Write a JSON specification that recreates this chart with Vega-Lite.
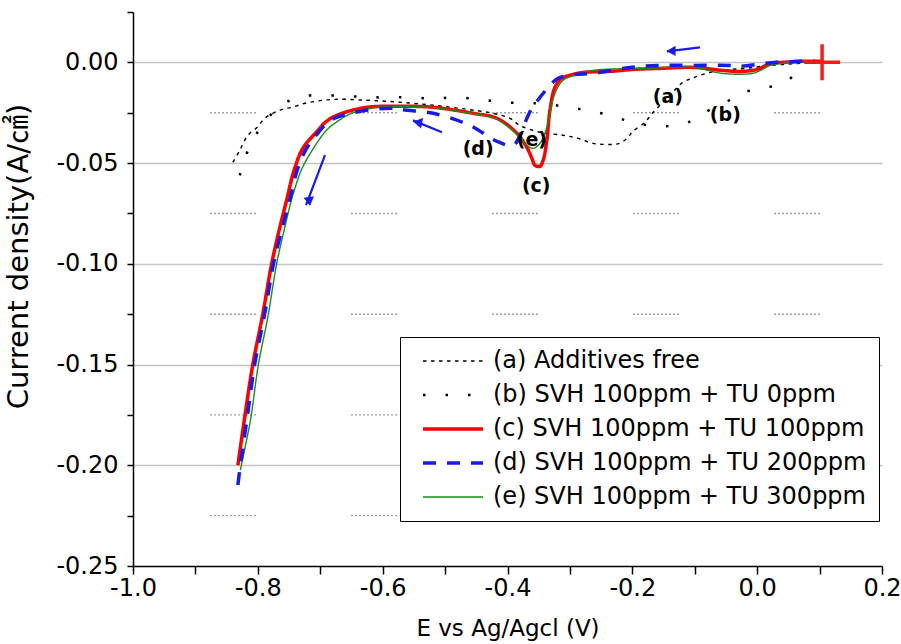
{
  "$schema": "https://vega.github.io/schema/vega-lite/v6.json",
  "width": 749,
  "height": 554,
  "autosize": {"type": "none"},
  "padding": {"left": 133, "top": 12, "right": 19, "bottom": 78},
  "background": "white",
  "config": {"view": {"stroke": null}, "font": "DejaVu Sans"},
  "datasets": {
    "curves": [
      {"s": "(a) Additives free", "E": -0.840, "j": -0.0496},
      {"s": "(a) Additives free", "E": -0.829, "j": -0.0437},
      {"s": "(a) Additives free", "E": -0.816, "j": -0.0362},
      {"s": "(a) Additives free", "E": -0.801, "j": -0.0322},
      {"s": "(a) Additives free", "E": -0.789, "j": -0.0278},
      {"s": "(a) Additives free", "E": -0.776, "j": -0.0253},
      {"s": "(a) Additives free", "E": -0.761, "j": -0.0233},
      {"s": "(a) Additives free", "E": -0.745, "j": -0.0223},
      {"s": "(a) Additives free", "E": -0.724, "j": -0.0203},
      {"s": "(a) Additives free", "E": -0.680, "j": -0.0184},
      {"s": "(a) Additives free", "E": -0.625, "j": -0.0188},
      {"s": "(a) Additives free", "E": -0.572, "j": -0.0198},
      {"s": "(a) Additives free", "E": -0.519, "j": -0.0213},
      {"s": "(a) Additives free", "E": -0.465, "j": -0.0233},
      {"s": "(a) Additives free", "E": -0.423, "j": -0.0253},
      {"s": "(a) Additives free", "E": -0.396, "j": -0.0278},
      {"s": "(a) Additives free", "E": -0.380, "j": -0.0313},
      {"s": "(a) Additives free", "E": -0.348, "j": -0.0347},
      {"s": "(a) Additives free", "E": -0.311, "j": -0.0362},
      {"s": "(a) Additives free", "E": -0.287, "j": -0.0377},
      {"s": "(a) Additives free", "E": -0.263, "j": -0.0402},
      {"s": "(a) Additives free", "E": -0.247, "j": -0.0407},
      {"s": "(a) Additives free", "E": -0.231, "j": -0.0407},
      {"s": "(a) Additives free", "E": -0.220, "j": -0.0402},
      {"s": "(a) Additives free", "E": -0.207, "j": -0.0372},
      {"s": "(a) Additives free", "E": -0.199, "j": -0.0342},
      {"s": "(a) Additives free", "E": -0.180, "j": -0.0298},
      {"s": "(a) Additives free", "E": -0.168, "j": -0.0253},
      {"s": "(a) Additives free", "E": -0.143, "j": -0.0174},
      {"s": "(a) Additives free", "E": -0.119, "j": -0.0099},
      {"s": "(a) Additives free", "E": -0.104, "j": -0.0079},
      {"s": "(a) Additives free", "E": -0.087, "j": -0.0060},
      {"s": "(a) Additives free", "E": -0.060, "j": -0.0040},
      {"s": "(a) Additives free", "E": -0.020, "j": -0.0030},
      {"s": "(a) Additives free", "E": 0.021, "j": -0.0015},
      {"s": "(a) Additives free", "E": 0.069, "j": -0.0005},
      {"s": "(b) SVH 100ppm + TU 0ppm", "E": -0.829, "j": -0.0561},
      {"s": "(b) SVH 100ppm + TU 0ppm", "E": -0.817, "j": -0.0446},
      {"s": "(b) SVH 100ppm + TU 0ppm", "E": -0.809, "j": -0.0392},
      {"s": "(b) SVH 100ppm + TU 0ppm", "E": -0.793, "j": -0.0313},
      {"s": "(b) SVH 100ppm + TU 0ppm", "E": -0.772, "j": -0.0238},
      {"s": "(b) SVH 100ppm + TU 0ppm", "E": -0.748, "j": -0.0188},
      {"s": "(b) SVH 100ppm + TU 0ppm", "E": -0.716, "j": -0.0164},
      {"s": "(b) SVH 100ppm + TU 0ppm", "E": -0.652, "j": -0.0169},
      {"s": "(b) SVH 100ppm + TU 0ppm", "E": -0.604, "j": -0.0174},
      {"s": "(b) SVH 100ppm + TU 0ppm", "E": -0.561, "j": -0.0174},
      {"s": "(b) SVH 100ppm + TU 0ppm", "E": -0.519, "j": -0.0179},
      {"s": "(b) SVH 100ppm + TU 0ppm", "E": -0.481, "j": -0.0174},
      {"s": "(b) SVH 100ppm + TU 0ppm", "E": -0.444, "j": -0.0184},
      {"s": "(b) SVH 100ppm + TU 0ppm", "E": -0.404, "j": -0.0198},
      {"s": "(b) SVH 100ppm + TU 0ppm", "E": -0.367, "j": -0.0203},
      {"s": "(b) SVH 100ppm + TU 0ppm", "E": -0.348, "j": -0.0203},
      {"s": "(b) SVH 100ppm + TU 0ppm", "E": -0.303, "j": -0.0223},
      {"s": "(b) SVH 100ppm + TU 0ppm", "E": -0.273, "j": -0.0238},
      {"s": "(b) SVH 100ppm + TU 0ppm", "E": -0.236, "j": -0.0263},
      {"s": "(b) SVH 100ppm + TU 0ppm", "E": -0.199, "j": -0.0298},
      {"s": "(b) SVH 100ppm + TU 0ppm", "E": -0.160, "j": -0.0317},
      {"s": "(b) SVH 100ppm + TU 0ppm", "E": -0.120, "j": -0.0308},
      {"s": "(b) SVH 100ppm + TU 0ppm", "E": -0.104, "j": -0.0288},
      {"s": "(b) SVH 100ppm + TU 0ppm", "E": -0.087, "j": -0.0253},
      {"s": "(b) SVH 100ppm + TU 0ppm", "E": -0.047, "j": -0.0193},
      {"s": "(b) SVH 100ppm + TU 0ppm", "E": -0.029, "j": -0.0154},
      {"s": "(b) SVH 100ppm + TU 0ppm", "E": 0.009, "j": -0.0129},
      {"s": "(b) SVH 100ppm + TU 0ppm", "E": 0.048, "j": -0.0094},
      {"s": "(b) SVH 100ppm + TU 0ppm", "E": 0.064, "j": -0.0035},
      {"s": "(c) SVH 100ppm + TU 100ppm", "E": -0.832, "j": -0.2000},
      {"s": "(c) SVH 100ppm + TU 100ppm", "E": -0.821, "j": -0.1761},
      {"s": "(c) SVH 100ppm + TU 100ppm", "E": -0.808, "j": -0.1498},
      {"s": "(c) SVH 100ppm + TU 100ppm", "E": -0.793, "j": -0.1265},
      {"s": "(c) SVH 100ppm + TU 100ppm", "E": -0.778, "j": -0.1002},
      {"s": "(c) SVH 100ppm + TU 100ppm", "E": -0.767, "j": -0.0848},
      {"s": "(c) SVH 100ppm + TU 100ppm", "E": -0.754, "j": -0.0685},
      {"s": "(c) SVH 100ppm + TU 100ppm", "E": -0.742, "j": -0.0536},
      {"s": "(c) SVH 100ppm + TU 100ppm", "E": -0.728, "j": -0.0427},
      {"s": "(c) SVH 100ppm + TU 100ppm", "E": -0.708, "j": -0.0352},
      {"s": "(c) SVH 100ppm + TU 100ppm", "E": -0.688, "j": -0.0288},
      {"s": "(c) SVH 100ppm + TU 100ppm", "E": -0.665, "j": -0.0253},
      {"s": "(c) SVH 100ppm + TU 100ppm", "E": -0.625, "j": -0.0223},
      {"s": "(c) SVH 100ppm + TU 100ppm", "E": -0.572, "j": -0.0218},
      {"s": "(c) SVH 100ppm + TU 100ppm", "E": -0.519, "j": -0.0223},
      {"s": "(c) SVH 100ppm + TU 100ppm", "E": -0.455, "j": -0.0253},
      {"s": "(c) SVH 100ppm + TU 100ppm", "E": -0.417, "j": -0.0278},
      {"s": "(c) SVH 100ppm + TU 100ppm", "E": -0.385, "j": -0.0352},
      {"s": "(c) SVH 100ppm + TU 100ppm", "E": -0.369, "j": -0.0422},
      {"s": "(c) SVH 100ppm + TU 100ppm", "E": -0.361, "j": -0.0476},
      {"s": "(c) SVH 100ppm + TU 100ppm", "E": -0.356, "j": -0.0511},
      {"s": "(c) SVH 100ppm + TU 100ppm", "E": -0.348, "j": -0.0516},
      {"s": "(c) SVH 100ppm + TU 100ppm", "E": -0.343, "j": -0.0486},
      {"s": "(c) SVH 100ppm + TU 100ppm", "E": -0.337, "j": -0.0387},
      {"s": "(c) SVH 100ppm + TU 100ppm", "E": -0.332, "j": -0.0238},
      {"s": "(c) SVH 100ppm + TU 100ppm", "E": -0.324, "j": -0.0124},
      {"s": "(c) SVH 100ppm + TU 100ppm", "E": -0.313, "j": -0.0079},
      {"s": "(c) SVH 100ppm + TU 100ppm", "E": -0.300, "j": -0.0064},
      {"s": "(c) SVH 100ppm + TU 100ppm", "E": -0.279, "j": -0.0050},
      {"s": "(c) SVH 100ppm + TU 100ppm", "E": -0.236, "j": -0.0045},
      {"s": "(c) SVH 100ppm + TU 100ppm", "E": -0.199, "j": -0.0035},
      {"s": "(c) SVH 100ppm + TU 100ppm", "E": -0.156, "j": -0.0030},
      {"s": "(c) SVH 100ppm + TU 100ppm", "E": -0.103, "j": -0.0025},
      {"s": "(c) SVH 100ppm + TU 100ppm", "E": -0.055, "j": -0.0040},
      {"s": "(c) SVH 100ppm + TU 100ppm", "E": -0.027, "j": -0.0045},
      {"s": "(c) SVH 100ppm + TU 100ppm", "E": 0.000, "j": -0.0035},
      {"s": "(c) SVH 100ppm + TU 100ppm", "E": 0.021, "j": -0.0005},
      {"s": "(c) SVH 100ppm + TU 100ppm", "E": 0.041, "j": 0.0000},
      {"s": "(c) SVH 100ppm + TU 100ppm", "E": 0.069, "j": 0.0005},
      {"s": "(c) SVH 100ppm + TU 100ppm", "E": 0.101, "j": 0.0005},
      {"s": "(e) SVH 100ppm + TU 300ppm", "E": -0.828, "j": -0.2024},
      {"s": "(e) SVH 100ppm + TU 300ppm", "E": -0.818, "j": -0.1875},
      {"s": "(e) SVH 100ppm + TU 300ppm", "E": -0.811, "j": -0.1761},
      {"s": "(e) SVH 100ppm + TU 300ppm", "E": -0.799, "j": -0.1498},
      {"s": "(e) SVH 100ppm + TU 300ppm", "E": -0.784, "j": -0.1265},
      {"s": "(e) SVH 100ppm + TU 300ppm", "E": -0.770, "j": -0.1002},
      {"s": "(e) SVH 100ppm + TU 300ppm", "E": -0.759, "j": -0.0848},
      {"s": "(e) SVH 100ppm + TU 300ppm", "E": -0.744, "j": -0.0660},
      {"s": "(e) SVH 100ppm + TU 300ppm", "E": -0.729, "j": -0.0526},
      {"s": "(e) SVH 100ppm + TU 300ppm", "E": -0.711, "j": -0.0427},
      {"s": "(e) SVH 100ppm + TU 300ppm", "E": -0.690, "j": -0.0337},
      {"s": "(e) SVH 100ppm + TU 300ppm", "E": -0.670, "j": -0.0288},
      {"s": "(e) SVH 100ppm + TU 300ppm", "E": -0.650, "j": -0.0253},
      {"s": "(e) SVH 100ppm + TU 300ppm", "E": -0.612, "j": -0.0225},
      {"s": "(e) SVH 100ppm + TU 300ppm", "E": -0.572, "j": -0.0220},
      {"s": "(e) SVH 100ppm + TU 300ppm", "E": -0.519, "j": -0.0225},
      {"s": "(e) SVH 100ppm + TU 300ppm", "E": -0.455, "j": -0.0255},
      {"s": "(e) SVH 100ppm + TU 300ppm", "E": -0.417, "j": -0.0282},
      {"s": "(e) SVH 100ppm + TU 300ppm", "E": -0.380, "j": -0.0372},
      {"s": "(e) SVH 100ppm + TU 300ppm", "E": -0.369, "j": -0.0412},
      {"s": "(e) SVH 100ppm + TU 300ppm", "E": -0.359, "j": -0.0427},
      {"s": "(e) SVH 100ppm + TU 300ppm", "E": -0.348, "j": -0.0402},
      {"s": "(e) SVH 100ppm + TU 300ppm", "E": -0.337, "j": -0.0322},
      {"s": "(e) SVH 100ppm + TU 300ppm", "E": -0.324, "j": -0.0154},
      {"s": "(e) SVH 100ppm + TU 300ppm", "E": -0.311, "j": -0.0089},
      {"s": "(e) SVH 100ppm + TU 300ppm", "E": -0.292, "j": -0.0064},
      {"s": "(e) SVH 100ppm + TU 300ppm", "E": -0.263, "j": -0.0040},
      {"s": "(e) SVH 100ppm + TU 300ppm", "E": -0.183, "j": -0.0030},
      {"s": "(e) SVH 100ppm + TU 300ppm", "E": -0.103, "j": -0.0025},
      {"s": "(e) SVH 100ppm + TU 300ppm", "E": -0.055, "j": -0.0055},
      {"s": "(e) SVH 100ppm + TU 300ppm", "E": -0.008, "j": -0.0055},
      {"s": "(e) SVH 100ppm + TU 300ppm", "E": 0.005, "j": -0.0040},
      {"s": "(e) SVH 100ppm + TU 300ppm", "E": 0.021, "j": -0.0015},
      {"s": "(e) SVH 100ppm + TU 300ppm", "E": 0.041, "j": -0.0005},
      {"s": "(e) SVH 100ppm + TU 300ppm", "E": 0.073, "j": 0.0000},
      {"s": "(e) SVH 100ppm + TU 300ppm", "E": 0.093, "j": 0.0000},
      {"s": "(d) SVH 100ppm + TU 200ppm", "E": -0.832, "j": -0.2098},
      {"s": "(d) SVH 100ppm + TU 200ppm", "E": -0.829, "j": -0.2024},
      {"s": "(d) SVH 100ppm + TU 200ppm", "E": -0.817, "j": -0.1761},
      {"s": "(d) SVH 100ppm + TU 200ppm", "E": -0.805, "j": -0.1498},
      {"s": "(d) SVH 100ppm + TU 200ppm", "E": -0.790, "j": -0.1265},
      {"s": "(d) SVH 100ppm + TU 200ppm", "E": -0.775, "j": -0.1002},
      {"s": "(d) SVH 100ppm + TU 200ppm", "E": -0.763, "j": -0.0848},
      {"s": "(d) SVH 100ppm + TU 200ppm", "E": -0.749, "j": -0.0685},
      {"s": "(d) SVH 100ppm + TU 200ppm", "E": -0.737, "j": -0.0536},
      {"s": "(d) SVH 100ppm + TU 200ppm", "E": -0.722, "j": -0.0427},
      {"s": "(d) SVH 100ppm + TU 200ppm", "E": -0.704, "j": -0.0352},
      {"s": "(d) SVH 100ppm + TU 200ppm", "E": -0.684, "j": -0.0288},
      {"s": "(d) SVH 100ppm + TU 200ppm", "E": -0.644, "j": -0.0248},
      {"s": "(d) SVH 100ppm + TU 200ppm", "E": -0.588, "j": -0.0228},
      {"s": "(d) SVH 100ppm + TU 200ppm", "E": -0.561, "j": -0.0238},
      {"s": "(d) SVH 100ppm + TU 200ppm", "E": -0.519, "j": -0.0253},
      {"s": "(d) SVH 100ppm + TU 200ppm", "E": -0.460, "j": -0.0313},
      {"s": "(d) SVH 100ppm + TU 200ppm", "E": -0.417, "j": -0.0392},
      {"s": "(d) SVH 100ppm + TU 200ppm", "E": -0.391, "j": -0.0412},
      {"s": "(d) SVH 100ppm + TU 200ppm", "E": -0.380, "j": -0.0362},
      {"s": "(d) SVH 100ppm + TU 200ppm", "E": -0.369, "j": -0.0278},
      {"s": "(d) SVH 100ppm + TU 200ppm", "E": -0.361, "j": -0.0228},
      {"s": "(d) SVH 100ppm + TU 200ppm", "E": -0.348, "j": -0.0174},
      {"s": "(d) SVH 100ppm + TU 200ppm", "E": -0.332, "j": -0.0114},
      {"s": "(d) SVH 100ppm + TU 200ppm", "E": -0.319, "j": -0.0079},
      {"s": "(d) SVH 100ppm + TU 200ppm", "E": -0.292, "j": -0.0060},
      {"s": "(d) SVH 100ppm + TU 200ppm", "E": -0.263, "j": -0.0055},
      {"s": "(d) SVH 100ppm + TU 200ppm", "E": -0.204, "j": -0.0025},
      {"s": "(d) SVH 100ppm + TU 200ppm", "E": -0.156, "j": -0.0015},
      {"s": "(d) SVH 100ppm + TU 200ppm", "E": -0.103, "j": -0.0015},
      {"s": "(d) SVH 100ppm + TU 200ppm", "E": -0.043, "j": -0.0015},
      {"s": "(d) SVH 100ppm + TU 200ppm", "E": -0.027, "j": -0.0020},
      {"s": "(d) SVH 100ppm + TU 200ppm", "E": 0.013, "j": -0.0005},
      {"s": "(d) SVH 100ppm + TU 200ppm", "E": 0.032, "j": 0.0000},
      {"s": "(d) SVH 100ppm + TU 200ppm", "E": 0.069, "j": 0.0005},
      {"s": "(d) SVH 100ppm + TU 200ppm", "E": 0.093, "j": 0.0005}
    ],
    "minor": [{"j": -0.025}, {"j": -0.075}, {"j": -0.125}, {"j": -0.175}, {"j": -0.225}],
    "labels": [
      {"t": "(a)", "E": -0.143, "j": -0.0174},
      {"t": "(b)", "E": -0.051, "j": -0.0263},
      {"t": "(c)", "E": -0.354, "j": -0.0615},
      {"t": "(d)", "E": -0.447, "j": -0.0430},
      {"t": "(e)", "E": -0.361, "j": -0.0385}
    ],
    "arrows": [
      {"k": "1", "E": -0.0916, "j": 0.0074, "E2": -0.1445, "j2": 0.0055},
      {"k": "2", "E": -0.5050, "j": -0.0347, "E2": -0.5514, "j2": -0.0288},
      {"k": "3", "E": -0.6924, "j": -0.0461, "E2": -0.7228, "j2": -0.0709}
    ],
    "heads": [
      {"k": "1", "E": -0.1380, "j": 0.0057},
      {"k": "2", "E": -0.5440, "j": -0.0298},
      {"k": "3", "E": -0.7200, "j": -0.0680}
    ],
    "marker": [{"E": 0.104, "j": 0.0}]
  },
  "layer": [
    {
      "data": {"name": "minor"},
      "mark": {"type": "rule", "color": "#a0a0a0", "strokeWidth": 1.4, "strokeDash": [2, 2, 2, 2, 2, 2, 2, 2, 2, 2, 2, 2, 2, 2, 2, 2, 2, 2, 2, 2, 2, 2, 2, 95], "strokeDashOffset": 79},
      "encoding": {
        "y": {
          "field": "j", "type": "quantitative",
          "scale": {"domain": [-0.25, 0.025], "nice": false, "zero": false},
          "axis": {
            "title": "Current density(A/㎠)",
            "values": [0.025, 0, -0.025, -0.05, -0.075, -0.1, -0.125, -0.15, -0.175, -0.2, -0.225, -0.25],
            "labelExpr": "abs(round(datum.value*40)) % 2 == 0 ? replace(format(datum.value, '.2f'), '\u2212', '-') : ''",
            "labelFlush": false, "labelOverlap": false,
            "labelFont": "DejaVu Sans", "labelFontSize": 24, "labelColor": "#000000",
            "labelPadding": 9,
            "tickSize": 6, "tickColor": "#000000", "tickWidth": 1.5,
            "domainColor": "#000000", "domainWidth": 1.5,
            "grid": true, "gridColor": "#c4c4c4", "gridWidth": 1.5,
            "gridOpacity": {"condition": {"test": "abs(round(datum.value*40)) % 2 == 0 && datum.value > -0.24", "value": 1}, "value": 0},
            "titleFont": "DejaVu Sans, Noto Sans CJK SC", "titleFontSize": 29, "titleFontWeight": "normal", "titleColor": "#000000",
            "titleX": -100, "titleY": 244
          }
        }
      }
    },
    {
      "encoding": {
        "x": {
          "field": "E", "type": "quantitative",
          "scale": {"domain": [-1.0, 0.2], "nice": false, "zero": false},
          "axis": {
            "title": "E vs Ag/Agcl (V)",
            "values": [-1.0, -0.9, -0.8, -0.7, -0.6, -0.5, -0.4, -0.3, -0.2, -0.1, 0, 0.1, 0.2],
            "labelExpr": "abs(round(datum.value*10)) % 2 == 0 ? replace(format(datum.value, '.1f'), '\u2212', '-') : ''",
            "labelFlush": false, "labelOverlap": false,
            "labelFont": "DejaVu Sans", "labelFontSize": 24, "labelColor": "#000000",
            "labelPadding": 2,
            "tickSize": 8, "tickColor": "#000000", "tickWidth": 1.5,
            "domainColor": "#000000", "domainWidth": 1.5,
            "grid": false,
            "titleFont": "DejaVu Sans", "titleFontSize": 23, "titleFontWeight": "normal", "titleColor": "#000000",
            "titlePadding": 17
          }
        },
        "y": {
          "field": "j", "type": "quantitative",
          "scale": {"domain": [-0.25, 0.025], "nice": false, "zero": false},
          "axis": {
            "title": "Current density(A/㎠)",
            "values": [0.025, 0, -0.025, -0.05, -0.075, -0.1, -0.125, -0.15, -0.175, -0.2, -0.225, -0.25],
            "labelExpr": "abs(round(datum.value*40)) % 2 == 0 ? replace(format(datum.value, '.2f'), '\u2212', '-') : ''",
            "labelFlush": false, "labelOverlap": false,
            "labelFont": "DejaVu Sans", "labelFontSize": 24, "labelColor": "#000000",
            "labelPadding": 9,
            "tickSize": 6, "tickColor": "#000000", "tickWidth": 1.5,
            "domainColor": "#000000", "domainWidth": 1.5,
            "grid": true, "gridColor": "#c4c4c4", "gridWidth": 1.5,
            "gridOpacity": {"condition": {"test": "abs(round(datum.value*40)) % 2 == 0 && datum.value > -0.24", "value": 1}, "value": 0},
            "titleFont": "DejaVu Sans, Noto Sans CJK SC", "titleFontSize": 29, "titleFontWeight": "normal", "titleColor": "#000000",
            "titleX": -100, "titleY": 244
          }
        }
      },
      "layer": [
        {
          "data": {"name": "curves"},
          "mark": {"type": "line", "interpolate": "catmull-rom", "strokeCap": "butt"},
          "encoding": {
            "color": {
              "field": "s", "type": "nominal",
              "scale": {
                "domain": ["(a) Additives free", "(b) SVH 100ppm + TU 0ppm", "(c) SVH 100ppm + TU 100ppm", "(d) SVH 100ppm + TU 200ppm", "(e) SVH 100ppm + TU 300ppm"],
                "range": ["#000000", "#000000", "#ff0000", "#1a1ae6", "#1a8c1a"]
              },
              "legend": {"title": null, "orient": "none", "legendX": 267, "legendY": 325, "symbolType": "M-3,0H3", "symbolSize": 400, "symbolOffset": 29, "labelFont": "DejaVu Sans", "labelFontSize": 24, "labelColor": "#000000", "labelLimit": 0, "labelOffset": 28, "strokeColor": "#000000", "fillColor": "#ffffff", "padding": 12, "rowPadding": 10,
                "encode": {"symbols": {"update": {"strokeWidth": {"signal": "(datum.value == '(c) SVH 100ppm + TU 100ppm' || datum.value == '(d) SVH 100ppm + TU 200ppm') ? 3.5 : (datum.value == '(b) SVH 100ppm + TU 0ppm' ? 2.5 : 1.4)"}, "fill": {"value": "transparent"}}}}}
            },
            "strokeDash": {
              "field": "s", "type": "nominal",
              "scale": {
                "domain": ["(a) Additives free", "(b) SVH 100ppm + TU 0ppm", "(c) SVH 100ppm + TU 100ppm", "(d) SVH 100ppm + TU 200ppm", "(e) SVH 100ppm + TU 300ppm"],
                "range": [[3.5, 4.5], [2.5, 20], [1, 0], [13, 11], [1, 0]]
              },
              "legend": {"title": null, "orient": "none", "legendX": 267, "legendY": 325, "symbolType": "M-3,0H3", "symbolSize": 400, "symbolOffset": 29, "labelFont": "DejaVu Sans", "labelFontSize": 24, "labelColor": "#000000", "labelLimit": 0, "labelOffset": 28, "strokeColor": "#000000", "fillColor": "#ffffff", "padding": 12, "rowPadding": 10,
                "encode": {"symbols": {"update": {"strokeWidth": {"signal": "(datum.value == '(c) SVH 100ppm + TU 100ppm' || datum.value == '(d) SVH 100ppm + TU 200ppm') ? 3.5 : (datum.value == '(b) SVH 100ppm + TU 0ppm' ? 2.5 : 1.4)"}, "fill": {"value": "transparent"}}}}}
            },
            "strokeWidth": {
              "condition": [
                {"test": "datum.s == '(c) SVH 100ppm + TU 100ppm' || datum.s == '(d) SVH 100ppm + TU 200ppm'", "value": 3.5},
                {"test": "datum.s == '(b) SVH 100ppm + TU 0ppm'", "value": 2.5}
              ],
              "value": 1.4
            }
          }
        },
        {
          "data": {"name": "arrows"},
          "mark": {"type": "rule", "color": "#1a1ae6", "strokeWidth": 2.2},
          "encoding": {
            "x2": {"field": "E2"},
            "y2": {"field": "j2"}
          }
        },
        {
          "data": {"name": "heads"},
          "mark": {"type": "point", "shape": "triangle-up", "filled": true, "color": "#1a1ae6", "size": 110, "opacity": 1},
          "encoding": {
            "angle": {"field": "k", "type": "nominal", "scale": {"domain": ["1", "2", "3"], "range": [270, 292, 201]}, "legend": null}
          }
        },
        {
          "data": {"name": "labels"},
          "mark": {"type": "text", "font": "DejaVu Sans", "fontWeight": "bold", "fontSize": 19, "color": "#000000", "align": "center", "baseline": "middle"},
          "encoding": {
            "text": {"field": "t"}
          }
        },
        {
          "data": {"name": "marker"},
          "mark": {"type": "point", "shape": "M-1,0H1M0,-1V1", "filled": false, "stroke": "#ff1a1a", "strokeWidth": 3.5, "size": 1296, "opacity": 1}
        }
      ]
    }
  ]
}
